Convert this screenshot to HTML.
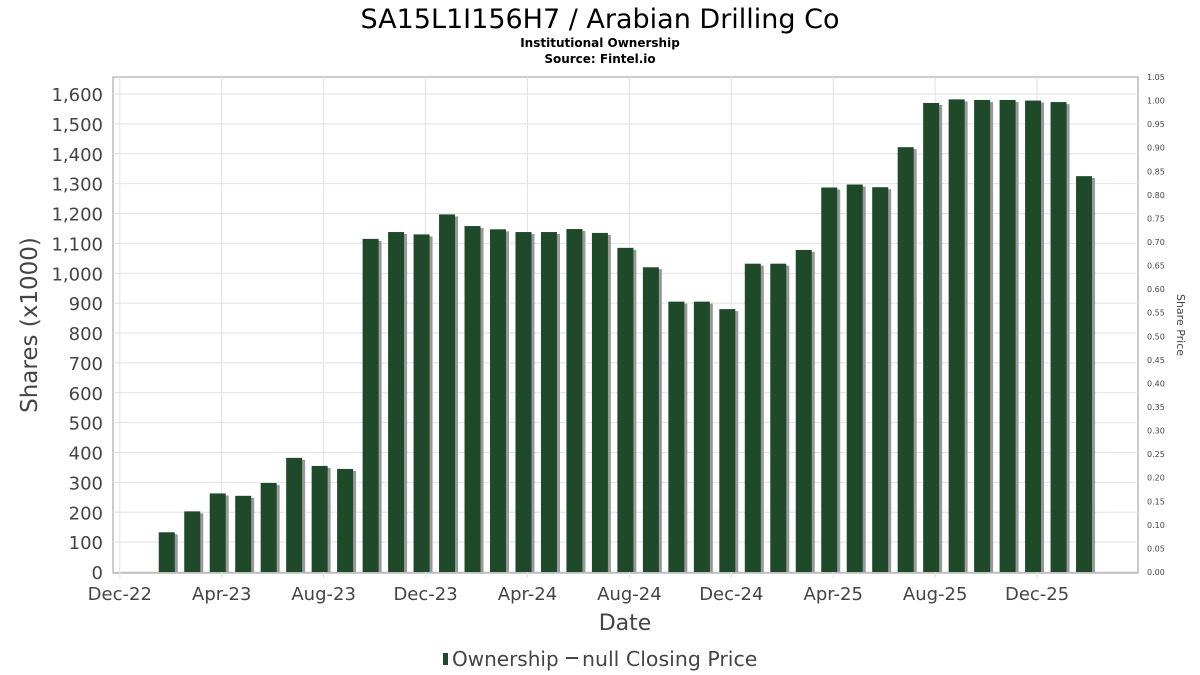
<!DOCTYPE html>
<html><head><meta charset="utf-8"><style>
body{margin:0;background:#fff;font-family:"DejaVu Sans","Liberation Sans",sans-serif}
svg{display:block}
</style></head><body>
<svg width="1200" height="675" id="c">
<text x="600" y="28" text-anchor="middle" font-size="27" fill="#000">SA15L1I156H7 / Arabian Drilling Co</text>
<text x="600" y="47" text-anchor="middle" font-size="12" font-weight="bold">Institutional Ownership</text>
<text x="600" y="63" text-anchor="middle" font-size="12" font-weight="bold">Source: Fintel.io</text>
<rect x="113" y="77" width="1025" height="496" fill="#fff" stroke="#999"/>
<g id="grid"></g><g id="bars"></g><g id="axes"></g>
<text transform="translate(37,325) rotate(-90)" text-anchor="middle" font-size="23" fill="#444">Shares (x1000)</text>
<text transform="translate(1177,325) rotate(90)" text-anchor="middle" font-size="11" fill="#444">Share Price</text>
<text x="625" y="630" text-anchor="middle" font-size="22" fill="#444">Date</text>
<g>
<rect x="443" y="653" width="5" height="12" fill="#1f4a2a"/>
<text x="452" y="666" font-size="20" fill="#444">Ownership</text>
<line x1="566" y1="658" x2="578" y2="658" stroke="#444" stroke-width="2"/>
<text x="582" y="666" font-size="20.5" fill="#444">null Closing Price</text>
</g>
</svg>
<script>
const months=[2,3,4,5,6,7,8,9,10,11,12,13,14,15,16,17,18,19,20,21,22,23,24,25,26,27,28,29,30,31,32,33,34,35,36,37,38];
const shares=[133,203,263,255,298,382,355,345,1115,1138,1130,1197,1158,1147,1138,1138,1148,1135,1085,1020,905,905,880,1032,1032,1078,1287,1297,1288,1422,1570,1582,1580,1580,1578,1573,1325];
const yTicks=[0,100,200,300,400,500,600,700,800,900,1000,1100,1200,1300,1400,1500,1600];
const priceTicks=[0,0.05,0.1,0.15,0.2,0.25,0.3,0.35,0.4,0.45,0.5,0.55,0.6,0.65,0.7,0.75,0.8,0.85,0.9,0.95,1.0,1.05];
const xLabels=["Dec-22","Apr-23","Aug-23","Dec-23","Apr-24","Aug-24","Dec-24","Apr-25","Aug-25","Dec-25"];
const xLabelMonths=[0,4,8,12,16,20,24,28,32,36];
const NS="http://www.w3.org/2000/svg";
const y=v=>572-v*(478/1600);
const yp=v=>572-v*(495/1.05);
const x=m=>119.8+m*25.48;
function mk(t,a,p){const e=document.createElementNS(NS,t);for(const k in a)e.setAttribute(k,a[k]);p.appendChild(e);return e;}
const G=document.getElementById('grid'),B=document.getElementById('bars'),A=document.getElementById('axes');
yTicks.forEach(v=>{
 const l=mk('line',{x1:113,x2:1138,y1:y(v),y2:y(v),stroke:'#e2e2e2'},G);
 
 
 const t=mk('text',{x:103,y:y(v)+7,'text-anchor':'end','font-size':18,fill:'#444'},A);
 t.textContent=v.toLocaleString('en-US');
 
 
});
priceTicks.forEach(v=>{
 const t=mk('text',{x:1147,y:yp(v)+3,'font-size':8,fill:'#444'},A);
 t.textContent=v.toFixed(2);
 
 
});
xLabels.forEach((s,i)=>{
 const xx=x(xLabelMonths[i]);
 const l=mk('line',{x1:xx,x2:xx,y1:77,y2:578,stroke:'#e2e2e2'},G);
 
 
 const t=mk('text',{x:xx,y:600,'text-anchor':'middle','font-size':18,fill:'#444'},A);
 t.textContent=s;
 
 
});
months.forEach((m,i)=>{
 const cx=x(m),top=y(shares[i]);
 const s=mk('rect',{x:cx-12+3,y:top+2,width:16,height:572-top-2,fill:'#999'},B);
 
 
 const r=mk('rect',{x:cx-12,y:top,width:16,height:572-top,fill:'#1f4a2a'},B);
 
 
});
</script>
</body></html>
